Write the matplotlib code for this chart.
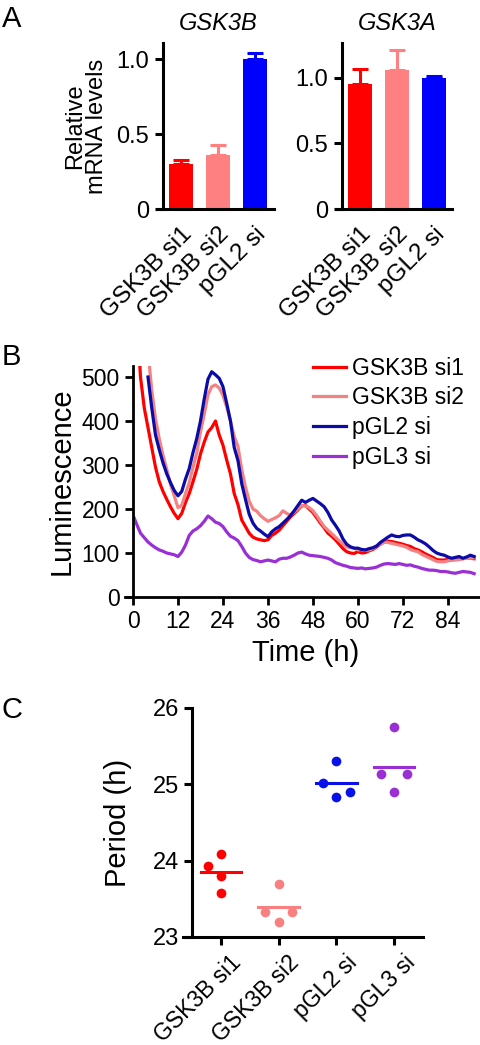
import matplotlib
matplotlib.use('Agg')
import matplotlib.pyplot as plt
import matplotlib.transforms as mtransforms
import numpy as np

plt.rcParams['font.family'] = ['Liberation Sans', 'DejaVu Sans']

# ---- data ----
groups_a = ['GSK3B si1', 'GSK3B si2', 'pGL2 si']
gsk3b_mean = [0.30, 0.36, 1.00]
gsk3b_err = [0.03, 0.07, 0.045]
gsk3a_mean = [0.95, 1.06, 1.00]
gsk3a_err = [0.12, 0.15, 0.01]
bar_colors = ['#ff0000', '#ff8080', '#0000ff']

# luminescence traces, hourly readings
t_si1 = list(range(1, 92))
lum_si1 = [640, 500, 430, 385, 340, 295, 262, 240, 222, 205, 190, 178, 190, 215, 235,
           262, 290, 325, 352, 375, 385, 400, 368, 345, 311, 280, 235, 210, 175, 160,
           145, 136, 132, 130, 128, 130, 140, 145, 152, 162, 172, 182, 190, 198, 207,
           208, 200, 192, 180, 168, 157, 145, 138, 130, 120, 110, 103, 100, 99, 103,
           100, 101, 105, 108, 114, 120, 125, 127, 126, 124, 122, 120, 117, 115, 110,
           107, 103, 98, 94, 90, 85, 84, 84, 85, 84, 86, 88, 87, 89, 88, 87]
t_si2 = list(range(4, 92))
lum_si2 = [560, 470, 405, 360, 322, 290, 256, 230, 203, 208, 235, 260, 295, 327, 375,
           415, 460, 478, 482, 475, 458, 432, 400, 365, 342, 290, 250, 218, 200, 195,
           185, 178, 172, 176, 180, 185, 196, 190, 186, 193, 200, 208, 207, 203, 196,
           185, 172, 160, 152, 144, 136, 128, 120, 114, 112, 111, 107, 108, 106, 107,
           110, 116, 120, 125, 124, 122, 120, 118, 116, 113, 108, 105, 103, 97, 93,
           89, 85, 81, 80, 80, 82, 84, 84, 85, 87, 88, 88, 89]
t_pgl2 = list(range(4, 92))
lum_pgl2 = [500, 430, 368, 335, 305, 280, 260, 242, 230, 240, 268, 292, 328, 360, 400,
            450, 495, 512, 505, 497, 478, 440, 400, 340, 310, 258, 222, 188, 168, 156,
            150, 143, 137, 148, 155, 160, 168, 176, 185, 196, 208, 220, 215, 220, 224,
            218, 212, 205, 192, 175, 163, 150, 132, 120, 114, 111, 111, 108, 107, 110,
            112, 116, 124, 130, 136, 141, 138, 137, 140, 141, 141, 136, 130, 126, 121,
            114, 106, 100, 97, 95, 91, 88, 90, 92, 88, 91, 95, 92]
t_pgl3 = list(range(0, 92))
lum_pgl3 = [186, 165, 145, 135, 125, 118, 112, 107, 104, 100, 98, 96, 92, 102, 118,
            140, 150, 155, 162, 172, 184, 178, 170, 167, 160, 148, 138, 134, 128, 115,
            100, 90, 85, 83, 80, 82, 84, 82, 80, 86, 88, 88, 91, 95, 100,
            102, 98, 95, 94, 93, 92, 90, 88, 84, 78, 75, 72, 70, 67, 66,
            65, 66, 64, 65, 66, 68, 72, 75, 76, 75, 74, 76, 74, 72, 73,
            70, 68, 65, 63, 61, 61, 60, 58, 58, 57, 55, 54, 56, 58, 57, 56, 53]

groups_c = ['GSK3B si1', 'GSK3B si2', 'pGL2 si', 'pGL3 si']
period_si1 = [24.09, 23.93, 23.80, 23.57]
period_si2 = [23.69, 23.33, 23.33, 23.20]
period_pgl2 = [25.30, 25.02, 24.84, 24.90]
period_pgl3 = [25.75, 25.14, 25.14, 24.90]
dot_offsets = [[0, -0.23, 0, 0], [0, -0.23, 0.23, 0], [0, -0.23, 0, 0.23], [0, -0.23, 0.23, 0]]

W, H = 480, 1045
fig = plt.figure(figsize=(W / 100, H / 100), dpi=100)


def box(x0, y0, x1, y1):
    # pixel box -> figure fraction
    return [x0 / W, 1 - y1 / H, (x1 - x0) / W, (y1 - y0) / H]


def style(ax, lw=2.2):
    for s in ['top', 'right']:
        ax.spines[s].set_visible(False)
    ax.spines['left'].set_linewidth(lw)
    ax.spines['bottom'].set_linewidth(lw)
    ax.tick_params(width=lw, length=6, direction='out')


# ---- Panel A ----
axA1 = fig.add_axes(box(162.5, 43, 273.5, 209))
axA2 = fig.add_axes(box(341.5, 43, 452.5, 209))
for ax, means, errs, title, ytop in [(axA1, gsk3b_mean, gsk3b_err, 'GSK3B', 1.11),
                                     (axA2, gsk3a_mean, gsk3a_err, 'GSK3A', 1.265)]:
    x = np.arange(len(groups_a))
    ax.bar(x, means, width=0.64, color=bar_colors)
    for xi, m, e, c in zip(x, means, errs, bar_colors):
        ax.errorbar(xi, m, yerr=[[0], [e]], color=c, capsize=5.5, elinewidth=2.2,
                    capthick=2.2)
    style(ax)
    ax.set_xlim(-0.5, 2.5)
    ax.set_ylim(0, ytop)
    ax.spines['bottom'].set_bounds(-0.65, 2.5)
    ax.set_yticks([0, 0.5, 1.0])
    ax.set_yticklabels(['0', '0.5', '1.0'], fontsize=17)
    ax.set_xticks(x)
    ax.set_xticklabels(groups_a, rotation=45, ha='right', va='top',
                       rotation_mode='anchor', fontsize=17.5)
    ax.tick_params(axis='x', length=0, pad=10)
    ax.set_title(title, fontsize=17, style='italic', pad=9)
axA1.set_ylabel('Relative\nmRNA levels', fontsize=17, linespacing=1.0, labelpad=6)

# ---- Panel B ----
axB = fig.add_axes(box(133, 366, 479, 597))
axB.plot(t_si1, lum_si1, color='#ff0000', lw=2.3, label='GSK3B si1')
axB.plot(t_si2, lum_si2, color='#f48282', lw=2.3, label='GSK3B si2')
axB.plot(t_pgl2, lum_pgl2, color='#0b0ba8', lw=2.3, label='pGL2 si')
axB.plot(t_pgl3, lum_pgl3, color='#9a2fd6', lw=2.3, label='pGL3 si')
style(axB, lw=2.0)
axB.set_xlim(0, 92.3)
axB.set_ylim(0, 525)
axB.spines['bottom'].set_bounds(-2.1, 92.3)
axB.set_xticks(range(0, 85, 12))
axB.set_yticks(range(0, 501, 100))
axB.tick_params(labelsize=16.5)
axB.set_xlabel('Time (h)', fontsize=21, labelpad=4)
axB.set_ylabel('Luminescence', fontsize=21, labelpad=4)
axB.legend(loc='upper left', bbox_to_anchor=(0.52, 1.04), frameon=False,
           fontsize=16.5, handlelength=1.45, handletextpad=0.25,
           labelspacing=0.29, borderpad=0, borderaxespad=0)

# ---- Panel C ----
axC = fig.add_axes(box(192, 708, 423, 937))
c_colors = ['#ff0000', '#f88080', '#0a10e8', '#9a2fd6']
for i, (vals, c) in enumerate(zip([period_si1, period_si2, period_pgl2, period_pgl3], c_colors)):
    xs = [i + o for o in dot_offsets[i]]
    axC.plot(xs, vals, 'o', color=c, ms=7, mec='none')
    m = np.mean(vals)
    axC.plot([i - 0.35, i + 0.35], [m, m], color=c, lw=2.2)
style(axC)
axC.set_xlim(-0.5, 3.5)
axC.set_ylim(23, 26)
axC.spines['bottom'].set_bounds(-0.66, 3.5)
axC.set_yticks([23, 24, 25, 26])
axC.tick_params(axis='y', labelsize=17)
axC.set_xticks(range(4))
axC.set_xticklabels(groups_c, rotation=45, ha='right', va='top',
                    rotation_mode='anchor', fontsize=16.5)
axC.tick_params(axis='x', length=6, pad=4)
shift = mtransforms.ScaledTranslation(0.09, 0, fig.dpi_scale_trans)
for lab in axC.get_xticklabels():
    lab.set_transform(lab.get_transform() + shift)
axC.set_ylabel('Period (h)', fontsize=21, labelpad=15)

# panel letters
fig.text(0.004, 0.995, 'A', fontsize=21, va='top')
fig.text(0.004, 1 - 343 / H, 'B', fontsize=21, va='top')
fig.text(0.004, 1 - 696 / H, 'C', fontsize=21, va='top')

fig.savefig('out.png', dpi=100)
